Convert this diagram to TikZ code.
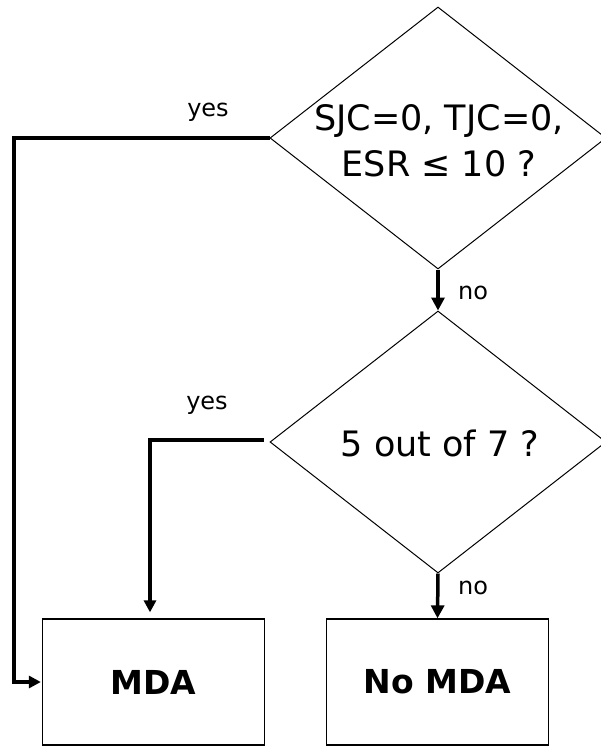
\documentclass[tikz,border=0pt]{standalone}
\usepackage{fontspec}
\setmainfont{DejaVu Sans}
\usetikzlibrary{shapes.geometric,arrows.meta}
\tikzset{
  decision/.style={draw, shape=diamond, line width=1pt, inner sep=0pt,
    minimum width=336pt, minimum height=262pt},
  qtext/.style={align=center, inner sep=0pt,
    font=\fontsize{35pt}{46pt}\selectfont},
  resultbox/.style={draw, line width=1.3pt, minimum width=222pt, minimum height=126pt,
    inner sep=0pt, font=\fontsize{33pt}{40pt}\selectfont\bfseries},
  lbl/.style={inner sep=0pt, font=\fontsize{24pt}{28pt}\selectfont},
  flow/.style={line width=3.5pt, -{Triangle[length=13pt,width=13pt]}},
  yesflow/.style={line width=3.5pt, -{Triangle[length=12pt,width=12pt]}},
}
\begin{document}
\begin{tikzpicture}[x=1pt,y=-1pt]
\useasboundingbox (0,0) rectangle (601,746);
% decisions
\node[decision] (d1) at (438,138) {};
\node[qtext] (t1) at (439,141) {SJC=0, TJC=0,\\ESR ≤ 10 ?};
\node[decision] (d2) at (438,442) {};
\node[qtext] (t2) at (440,443) {5 out of 7 ?};
% results
\node[resultbox] (mda) at (153.5,682) {MDA};
\node[resultbox] (nomda) at (437.5,682) {No MDA};
% no arrows
\draw[flow] (d1.south) -- (d2.north);
\node[lbl] (no1) at (473,293) {no};
\draw[flow] (d2.south) -- (nomda.north);
\node[lbl] (no2) at (473,588) {no};
% yes paths
\coordinate (c1) at (14,138);
\draw[yesflow, line join=miter] (d1.west) -- (c1) |- ([xshift=-1pt]mda.west);
\node[lbl] (yes1) at (208,112) {yes};
\coordinate (c2) at (150,440);
\draw[yesflow, line join=miter, shorten <=6pt, shorten >=6pt] (d2.west |- c2) -- (c2) -- (c2 |- mda.north);
\node[lbl] (yes2) at (207,405) {yes};
\end{tikzpicture}
\end{document}
